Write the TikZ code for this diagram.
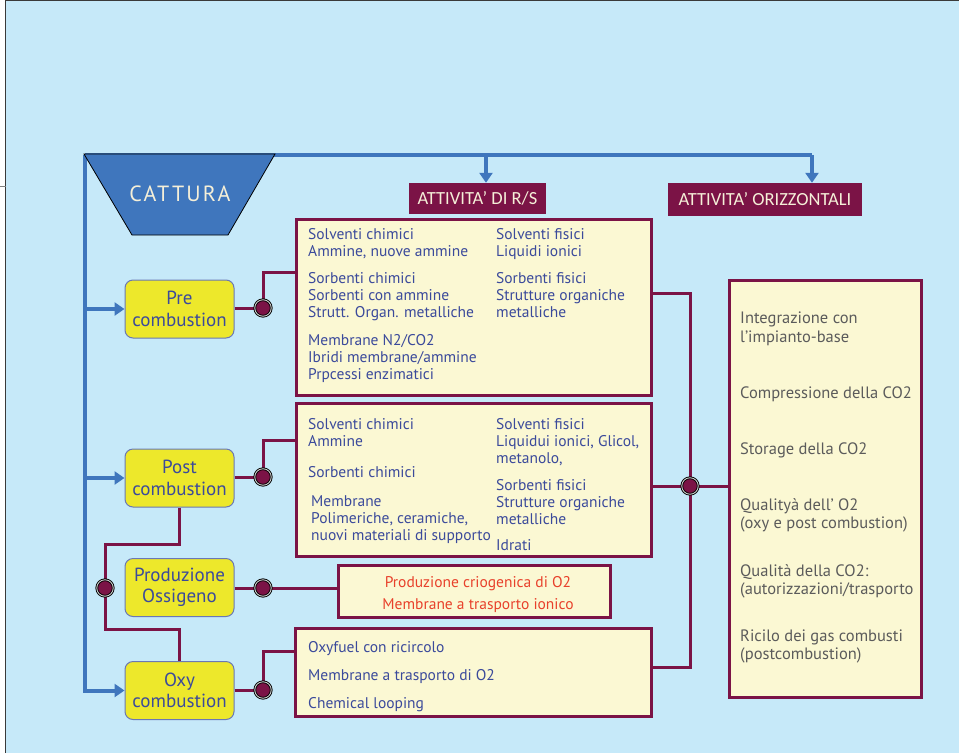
\documentclass[tikz,border=0pt]{standalone}
\usepackage{fontspec}
\setmainfont{PT Sans}
\newfontfamily\headf{Carlito}
\newfontfamily\catf[LetterSpace=10]{PT Sans}
\usetikzlibrary{arrows.meta}
\definecolor{bgc}{HTML}{C6E9F9}
\definecolor{bluel}{HTML}{3F76BD}
\definecolor{maroon}{HTML}{7B1346}
\definecolor{yel}{HTML}{EDE82B}
\definecolor{yedge}{HTML}{6A78B5}
\definecolor{cream}{HTML}{FBF8D3}
\definecolor{tblue}{HTML}{3B4A9B}
\definecolor{tred}{HTML}{E8412B}
\definecolor{tgray}{HTML}{5B5B5B}
\definecolor{htxt}{HTML}{F5EFD8}
\definecolor{framec}{HTML}{3A3A3A}
\begin{document}
\begin{tikzpicture}[x=1pt,y=-1pt,
  bline/.style={bluel, line width=4pt},
  barrow/.style={bline, -{Triangle[length=10pt,width=13pt]}},
  mline/.style={maroon, line width=3pt},
  ybox/.style={rectangle, rounded corners=8pt, fill=yel, draw=yedge, line width=1pt,
    minimum width=109pt, minimum height=58pt, inner sep=0, align=center,
    text=tblue, font=\fontsize{19}{21.5}\selectfont},
  cbox/.style={rectangle, fill=cream, draw=maroon, line width=3pt, inner sep=0},
  hbox/.style={rectangle, fill=maroon, inner sep=0, text=htxt,
    font=\headf\fontsize{18.5}{20}\selectfont},
  lt/.style={anchor=base west, inner sep=0, text=tblue, font=\fontsize{15.5}{17}\selectfont},
  gt/.style={anchor=base west, inner sep=0, text=tgray, font=\fontsize{16.5}{18}\selectfont},
  rt/.style={anchor=base, inner sep=0, text=tred, font=\fontsize{15.5}{17}\selectfont},
  dotn/.style={circle, fill=maroon, draw=black, line width=0.9pt, double=gray!40,
    double distance=0.9pt, minimum size=16.5pt, inner sep=0}
]
\useasboundingbox (0,0) rectangle (959,753);
% background and frame
\fill[white] (0,0) rectangle (959,753);
\fill[bgc] (5.5,1) rectangle (959,753);
\draw[framec, line width=1.3pt] (5.5,753) -- (5.5,0.7) -- (959,0.7);
\draw[gray, line width=1pt] (0,186) -- (5.5,186);

% yellow boxes
\node[ybox] (pre)  at (179.5,309)   {Pre\\combustion};
\node[ybox] (post) at (179.5,478)   {Post\\combustion};
\node[ybox] (prod) at (179.5,587.5) {Produzione\\Ossigeno};
\node[ybox] (oxy)  at (179.5,690.5) {Oxy\\combustion};

% cream boxes
\node[cbox, minimum width=355pt, minimum height=176pt] (box1) at (473.5,307) {};
\node[cbox, minimum width=355pt, minimum height=153pt] (box2) at (473.5,479.5) {};
\node[cbox, minimum width=272pt, minimum height=52pt]  (box3) at (474,591) {};
\node[cbox, minimum width=356pt, minimum height=88pt]  (box4) at (473,672) {};
\node[cbox, minimum width=192pt, minimum height=417pt] (box5) at (825,488.5) {};

% headers
\node[hbox, minimum width=137pt, minimum height=31pt] (h1) at (477.5,198.5) {ATTIVITA’ DI R/S};
\node[hbox, minimum width=194pt, minimum height=33pt] (h2) at (765,199.5) {ATTIVITA’ ORIZZONTALI};

% blue connectors
\coordinate (TL) at (85,155);
\coordinate (TA) at (486,155);
\coordinate (TB) at (812,155);
\draw[bline] (TL) -- (TB);
\draw[barrow] (TL) -- (TL |- oxy.west) -- (oxy.west);
\draw[barrow] (TL |- pre.west) -- (pre.west);
\draw[barrow] (TL |- post.west) -- (post.west);
\draw[barrow] (TA) -- (TA |- h1.north);
\draw[barrow] (TB) -- (TB |- h2.north);

% trapezoid CATTURA
\filldraw[fill=bluel, draw=black, line width=0.8pt] (84,154) -- (275,154) -- (228,235) -- (132,235) -- cycle;
\node[inner sep=0, text=htxt, font=\catf\fontsize{22}{24}\selectfont] (cat) at (180,194) {CATTURA};

% maroon connectors
\coordinate (P1) at (263,308);
\coordinate (P2) at (263,477);
\coordinate (P3) at (263,588);
\coordinate (P4) at (263,690);
\coordinate (PL) at (105,588);
\coordinate (PR) at (690,486);
\draw[mline] (P1 -| pre.east) -- (P1) |- ([yshift=35pt]box1.west);
\draw[mline] (P2 -| post.east) -- (P2) |- ([yshift=39.5pt]box2.west);
\draw[mline] (P3 -| prod.east) -- (P3) -- (P3 -| box3.west);
\draw[mline] (P4 -| oxy.east) -- (P4) |- ([yshift=21pt]box4.west);
\draw[mline] (post.south) -- ++(0,37) -| (PL);
\draw[mline] (PL) |- ([yshift=32pt]oxy.north) -- (oxy.north);
\draw[mline] ([yshift=14pt]box1.east) -| (PR);
\draw[mline] ([yshift=5pt]box4.east) -| (PR);
\draw[mline] (PR -| box2.east) -- (PR) -- (PR -| box5.west);

% dots
\node[dotn] (d1) at (P1) {};
\node[dotn] (d2) at (P2) {};
\node[dotn] (d3) at (P3) {};
\node[dotn] (d4) at (P4) {};
\node[dotn] (dl) at (PL) {};
\node[dotn] (dr) at (PR) {};

% box1 text
\node[lt] (a1) at (308,239) {Solventi chimici};
\node[lt] (a2) at (308,256) {Ammine, nuove ammine};
\node[lt] (a3) at (308,283) {Sorbenti chimici};
\node[lt] (a4) at (308,300) {Sorbenti con ammine};
\node[lt] (a5) at (308,317) {Strutt. Organ. metalliche};
\node[lt] (a6) at (308,345) {Membrane N2/CO2};
\node[lt] (a7) at (308,362) {Ibridi membrane/ammine};
\node[lt] (a8) at (308,379) {Prpcessi enzimatici};
\node[lt] (a9) at (496,239) {Solventi fisici};
\node[lt] (a10) at (496,256) {Liquidi ionici};
\node[lt] (a11) at (496,283) {Sorbenti fisici};
\node[lt] (a12) at (496,300) {Strutture organiche};
\node[lt] (a13) at (496,317) {metalliche};

% box2 text
\node[lt] (b1) at (308,429) {Solventi chimici};
\node[lt] (b2) at (308,446) {Ammine};
\node[lt] (b3) at (308,477) {Sorbenti chimici};
\node[lt] (b4) at (311,506) {Membrane};
\node[lt] (b5) at (311,523) {Polimeriche, ceramiche,};
\node[lt] (b6) at (311,540) {nuovi materiali di supporto};
\node[lt] (b7) at (496,429) {Solventi fisici};
\node[lt] (b8) at (496,446) {Liquidui ionici, Glicol,};
\node[lt] (b9) at (496,463) {metanolo,};
\node[lt] (b10) at (496,490) {Sorbenti fisici};
\node[lt] (b11) at (496,507) {Strutture organiche};
\node[lt] (b12) at (496,524) {metalliche};
\node[lt] (b13) at (496,550) {Idrati};

% box3 text
\node[rt] (c1) at (478,587) {Produzione criogenica di O2};
\node[rt] (c2) at (478,609) {Membrane a trasporto ionico};

% box4 text
\node[lt] (e1) at (308,652) {Oxyfuel con ricircolo};
\node[lt] (e2) at (308,680) {Membrane a trasporto di O2};
\node[lt] (e3) at (308,708) {Chemical looping};

% box5 text
\node[gt] (f1) at (740,323) {Integrazione con};
\node[gt] (f2) at (740,342) {l’impianto-base};
\node[gt] (f3) at (740,398) {Compressione della CO2};
\node[gt] (f4) at (740,454) {Storage della CO2};
\node[gt] (f5) at (740,510) {Qualityà dell’ O2};
\node[gt] (f6) at (740,528) {(oxy e post combustion)};
\node[gt] (f7) at (740,576) {Qualità della CO2:};
\node[gt] (f8) at (740,594) {(autorizzazioni/trasporto};
\node[gt] (f9) at (740,641) {Ricilo dei gas combusti};
\node[gt] (f10) at (740,659) {(postcombustion)};
\end{tikzpicture}
\end{document}
